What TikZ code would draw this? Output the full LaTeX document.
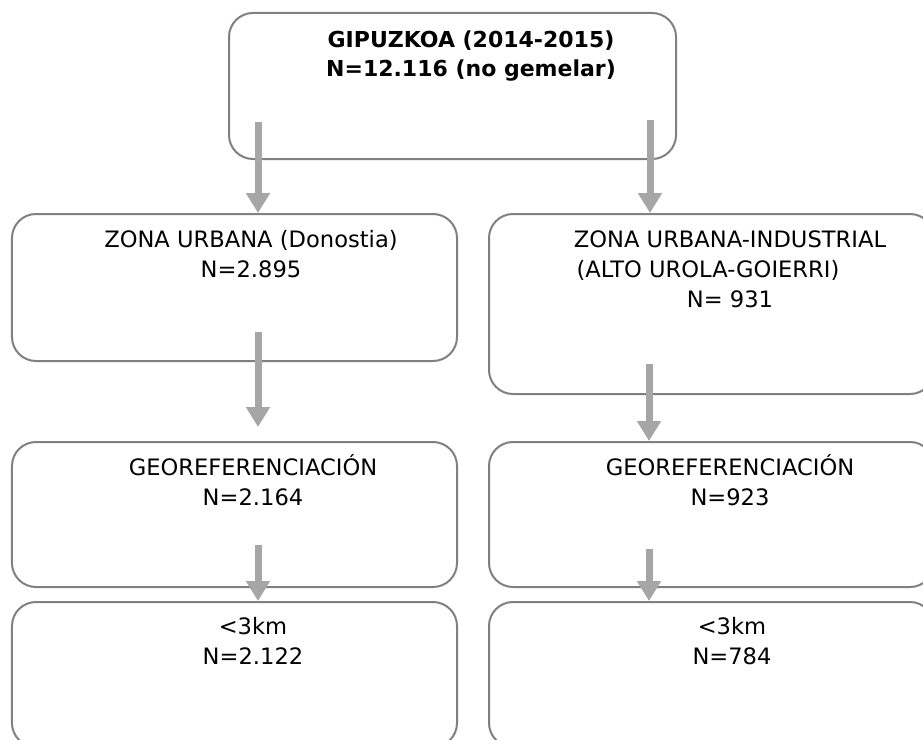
\documentclass[tikz,border=0pt]{standalone}
\usepackage{fontspec}
\setmainfont{DejaVu Sans}
\usetikzlibrary{arrows.meta}
\definecolor{boxgray}{RGB}{128,128,128}
\definecolor{arrgray}{RGB}{166,166,166}
\begin{document}
\begin{tikzpicture}[
    x=1bp, y=-1bp,
    box/.style={
        draw=boxgray,
        line width=2bp,
        rounded corners=24bp,
        minimum width=445bp,
        minimum height=145bp,
        inner sep=0pt
    },
    lbl/.style={
        inner sep=0pt,
        align=center,
        font=\fontsize{22.6bp}{30bp}\selectfont
    },
    title/.style={
        lbl,
        font=\fontsize{22bp}{29bp}\selectfont\bfseries
    },
    arr/.style={
        draw=arrgray,
        line width=7bp,
        -{Triangle[width=23bp,length=20bp]}
    }
]
    \useasboundingbox (0,0) rectangle (923,740);

    % --- Top ---
    \node[box, minimum width=447bp, minimum height=146bp] (gip) at (452.5,86) {};
    \node[title] (giptxt) at (471,56) {GIPUZKOA (2014-2015)\\N=12.116 (no gemelar)};

    % --- Zones ---
    \node[box, minimum height=147bp] (urb) at (234.5,287.5) {};
    \node[lbl] (urbtxt) at (251,254) {ZONA URBANA (Donostia)\\N=2.895};

    \node[box, minimum height=180bp] (ind) at (711.5,304) {};
    \node[lbl] (indtxt) at (730,269)
        {ZONA URBANA-INDUSTRIAL\\(ALTO UROLA-GOIERRI)\hspace*{44bp}\mbox{}\\N= 931};

    % --- Georeferenciacion ---
    \node[box] (geourb) at (234.5,514.5) {};
    \node[lbl] (geourbtxt) at (253,480) {GEOREFERENCIACIÓN\\N=2.164};

    \node[box] (geoind) at (711.5,514.5) {};
    \node[lbl] (geoindtxt) at (730,480) {GEOREFERENCIACIÓN\\N=923};

    % --- <3km ---
    \node[box] (kmurb) at (234.5,674.5) {};
    \node[lbl] (kmurbtxt) at (253,641) {<3km\\N=2.122};

    \node[box] (kmind) at (711.5,674.5) {};
    \node[lbl] (kmindtxt) at (732,641) {<3km\\N=784};

    % Arrows
    \coordinate (s1) at (258,122);
    \coordinate (s2) at (650,120);
    \coordinate (s3) at (258,332);
    \coordinate (s4) at (649,364);
    \coordinate (s5) at (258,545);
    \coordinate (s6) at (649,549);

    \draw[arr] (s1) -- (s1 |- urb.north);
    \draw[arr] (s2) -- (s2 |- ind.north);
    \draw[arr, shorten >=14bp] (s3) -- (s3 |- geourb.north);
    \draw[arr] (s4) -- (s4 |- geoind.north);
    \draw[arr] (s5) -- (s5 |- kmurb.north);
    \draw[arr] (s6) -- (s6 |- kmind.north);
\end{tikzpicture}
\end{document}
